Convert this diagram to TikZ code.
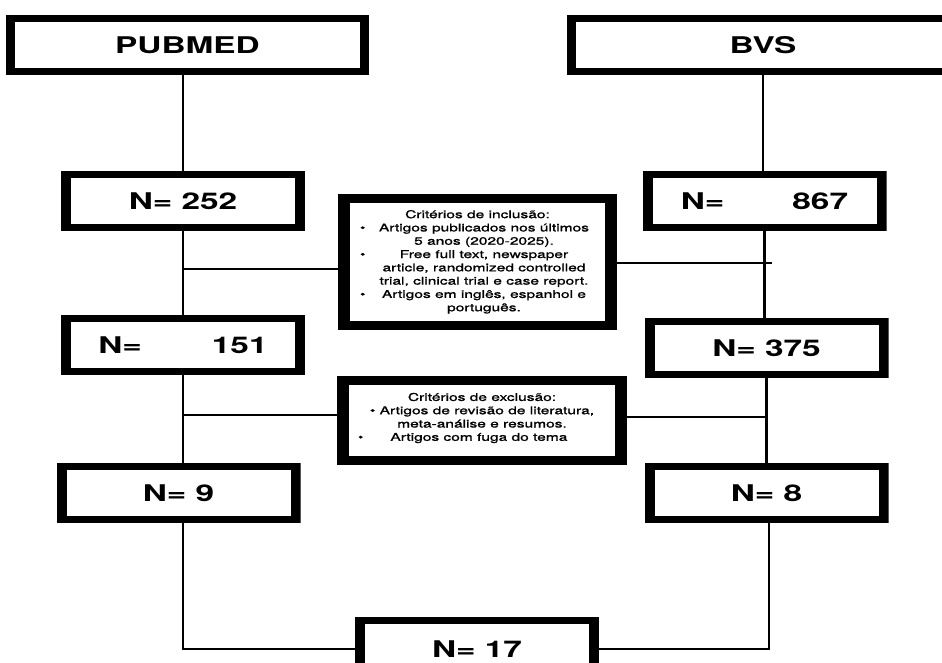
\documentclass[tikz,border=0pt]{standalone}
\usepackage{fontspec}
\setmainfont{TeX Gyre Heros}[FakeStretch=1.45]
\newfontfamily\critfont{TeX Gyre Heros}[FakeStretch=1.45, FakeBold=1.2]
\usepackage{array}
\begin{document}
\begin{tikzpicture}[x=1pt,y=-1pt,
  conn/.style={line width=2.2pt, line cap=rect},
  bxfill/.style n args={2}{inner sep=0pt, path picture={
      \fill[black] (path picture bounding box.south west) rectangle (path picture bounding box.north east);
      \fill[white] ([shift={(#1pt,#2pt)}]path picture bounding box.south west) rectangle ([shift={(-#1pt,-#2pt)}]path picture bounding box.north east);}},
  topbox/.style={bxfill={9}{7}, minimum height=60pt, font=\bfseries\fontsize{23}{27}\selectfont},
  nbox/.style={bxfill={10}{7}, minimum width=244pt, minimum height=60pt, font=\bfseries\fontsize{23}{27}\selectfont},
  critbox/.style={bxfill={12}{9}, font=\critfont\fontsize{10.7}{13.3}\selectfont, align=center}
]
\useasboundingbox (0,0) rectangle (942,662);
\fill[white] (0,0) rectangle (942,662);

% source boxes
\node[topbox, minimum width=363pt] (pub) at (187.5,45) {PUBMED};
\node[topbox, minimum width=392pt] (bvs) at (763,45) {BVS};

% count boxes
\node[nbox] (n252) at (183,201) {N= 252};
\node[nbox] (n867) at (764.5,201) {N=\hspace{68pt}867};
\node[nbox] (n151) at (183,345) {N=\hspace{70pt}151};
\node[nbox] (n375) at (766.5,348) {N= 375};
\node[nbox] (n9) at (178.5,493) {N= 9};
\node[nbox] (n8) at (766.5,493) {N= 8};
\node[nbox, minimum height=64pt] (n17) at (477,649) {N= 17};

% criteria boxes
\node[critbox, minimum width=279pt, minimum height=136pt] (inc) at (477.5,262) {%
\begin{tabular}{@{}p{6pt}@{\hspace{7pt}}>{\centering\arraybackslash}p{222pt}@{}}
\multicolumn{2}{c}{Critérios de inclusão:}\\
\textbullet & Artigos publicados nos últimos\\
 & 5 anos (2020-2025).\\
\textbullet & Free full text, newspaper\\
 & article, randomized controlled\\
 & trial, clinical trial e case report.\\
\textbullet & Artigos em inglês, espanhol e\\
 & português.
\end{tabular}};
\node[critbox, minimum width=290pt, minimum height=89pt] (exc) at (482,420.5) {%
Critérios de exclusão:\\
\textbullet{} Artigos de revisão de literatura,\\
meta-análise e resumos.\\
\makebox[248pt][l]{\textbullet\hspace{27pt}Artigos com fuga do tema}\\[-6pt]\mbox{}};

% column coordinates
\coordinate (colL) at (183,0);
\coordinate (colR1) at (763,0);
\coordinate (colR2) at (764.5,0);
\coordinate (colR3) at (766.5,0);
\coordinate (colR4) at (769,0);
\coordinate (incL) at (183,269);
\coordinate (incR) at (771,263);
\coordinate (excL) at (183,415);
\coordinate (excR) at (766.5,417);

% left column
\draw[conn] (pub.south -| colL) -- (n252.north -| colL);
\draw[conn] (n252.south -| colL) -- (n151.north -| colL);
\draw[conn] (n151.south -| colL) -- (n9.north -| colL);
\draw[conn] (n9.south -| colL) |- (n17.west);
% right column
\draw[conn] (bvs.south -| colR1) -- (n867.north -| colR1);
\draw[conn] (n867.south -| colR2) -- (n375.north -| colR2);
\draw[conn] (n375.south -| colR3) -- (n8.north -| colR3);
\draw[conn] (n8.south -| colR4) |- (n17.east);
% criteria branches
\draw[conn] (incL) -- (inc.west |- incL);
\draw[conn] (inc.east |- incR) -- (incR);
\draw[conn] (excL) -- (exc.west |- excL);
\draw[conn] (exc.east |- excR) -- (excR);
\end{tikzpicture}
\end{document}
